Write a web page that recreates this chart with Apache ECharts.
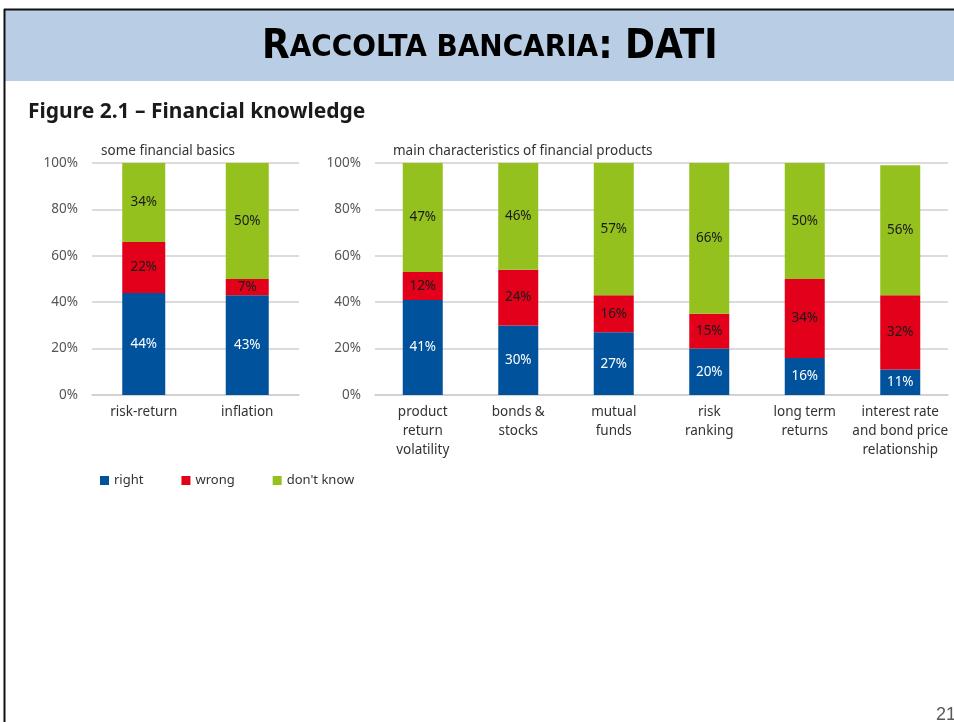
<!DOCTYPE html>
<html>
<head>
<meta charset="utf-8">
<script src="https://cdn.jsdelivr.net/npm/echarts@6/dist/echarts.min.js"></script>
<style>
html, body { margin: 0; padding: 0; background: #fff; }
#main { width: 954px; height: 722px; }
</style>
</head>
<body>
<div id="main"></div>
<script>
// some financial basics
const basicCats = ['risk-return', 'inflation']
const basicRight = [44, 43]
const basicWrong = [22, 7]
const basicDontKnow = [34, 50]

// main characteristics of financial products
const prodCats = [
  'product\nreturn\nvolatility',
  'bonds &\nstocks',
  'mutual\nfunds',
  'risk\nranking',
  'long term\nreturns',
  'interest rate\nand bond price\nrelationship'
]
const prodRight = [41, 30, 27, 20, 16, 11]
const prodWrong = [12, 24, 16, 15, 34, 32]
const prodDontKnow = [47, 46, 57, 66, 50, 56]

const seriesNames = ['right', 'wrong', "don't know"]
const colors = ['#00529c', '#e2001a', '#95c11f']
const labelColors = ['#ffffff', '#1a1a1a', '#1a1a1a']

const font = 'Noto Sans'
const fs = 13.5

function yAxis (gridIndex) {
  return {
    type: 'value',
    gridIndex: gridIndex,
    min: 0,
    max: 100,
    interval: 20,
    axisLine: { show: false },
    axisTick: { show: false },
    axisLabel: { formatter: '{value}%', color: '#555', fontSize: fs, fontFamily: font, margin: 14 },
    splitLine: { lineStyle: { color: '#cfcfcf', width: 1.5 } }
  }
}

function xAxis (gridIndex, cats) {
  return {
    type: 'category',
    gridIndex: gridIndex,
    data: cats,
    axisLine: { lineStyle: { color: '#cfcfcf', width: 1.5 } },
    axisTick: { show: false },
    axisLabel: { color: '#333', fontSize: fs, fontFamily: font, margin: 8, lineHeight: 19, interval: 0 }
  }
}

function barSeries (idx, axisIndex, data, width) {
  return {
    name: seriesNames[idx],
    type: 'bar',
    stack: 'g' + axisIndex,
    xAxisIndex: axisIndex,
    yAxisIndex: axisIndex,
    barWidth: width,
    data: data,
    itemStyle: { color: colors[idx] },
    label: {
      show: true,
      position: 'inside',
      formatter: '{c}%',
      color: labelColors[idx],
      fontSize: fs,
      fontFamily: font
    }
  }
}

const chart = echarts.init(document.getElementById('main'))
chart.setOption({
  animation: false,
  title: [
    {
      text: '{b|R}{s|ACCOLTA BANCARIA}{b|: DATI}',
      left: 257,
      top: 23,
      textStyle: {
        rich: {
          b: { fontSize: 40, fontWeight: 'bold', fontFamily: 'DejaVu Sans Condensed', color: '#000' },
          s: { fontSize: 31, fontWeight: 'bold', fontFamily: 'DejaVu Sans Condensed', color: '#000' }
        }
      }
    },
    {
      text: 'Figure 2.1 – Financial knowledge',
      left: 23,
      top: 97,
      textStyle: { fontSize: 21, fontWeight: 'bold', fontFamily: font, color: '#1a1a1a' }
    },
    {
      text: 'some financial basics',
      left: 96,
      top: 139,
      textStyle: { fontSize: fs, fontWeight: 'normal', fontFamily: font, color: '#333' }
    },
    {
      text: 'main characteristics of financial products',
      left: 388,
      top: 139,
      textStyle: { fontSize: fs, fontWeight: 'normal', fontFamily: font, color: '#333' }
    },
    {
      text: '21',
      left: 931,
      top: 701,
      textStyle: { fontSize: 18, fontWeight: 'normal', fontFamily: 'Liberation Sans', color: '#595959' }
    }
  ],
  graphic: [
    { type: 'rect', shape: { x: 5, y: 10, width: 949, height: 71 }, style: { fill: '#b9cde5' }, z: -10 },
    { type: 'line', shape: { x1: 4, y1: 9.5, x2: 954, y2: 9.5 }, style: { stroke: '#111', lineWidth: 2 }, z: -5 },
    { type: 'line', shape: { x1: 4.5, y1: 9, x2: 4.5, y2: 722 }, style: { stroke: '#111', lineWidth: 2 }, z: -5 }
  ],
  legend: {
    data: seriesNames,
    left: 95,
    top: 469,
    icon: 'rect',
    itemWidth: 9,
    itemHeight: 9,
    itemGap: 38,
    textStyle: { fontSize: 13, fontFamily: font, color: '#333' }
  },
  grid: [
    { left: 92, top: 163, width: 207, height: 232 },
    { left: 375, top: 163, width: 573, height: 232 }
  ],
  xAxis: [xAxis(0, basicCats), xAxis(1, prodCats)],
  yAxis: [yAxis(0), yAxis(1)],
  series: [
    barSeries(0, 0, basicRight, 43),
    barSeries(1, 0, basicWrong, 43),
    barSeries(2, 0, basicDontKnow, 43),
    barSeries(0, 1, prodRight, 40),
    barSeries(1, 1, prodWrong, 40),
    barSeries(2, 1, prodDontKnow, 40)
  ]
})
</script>
</body>
</html>
